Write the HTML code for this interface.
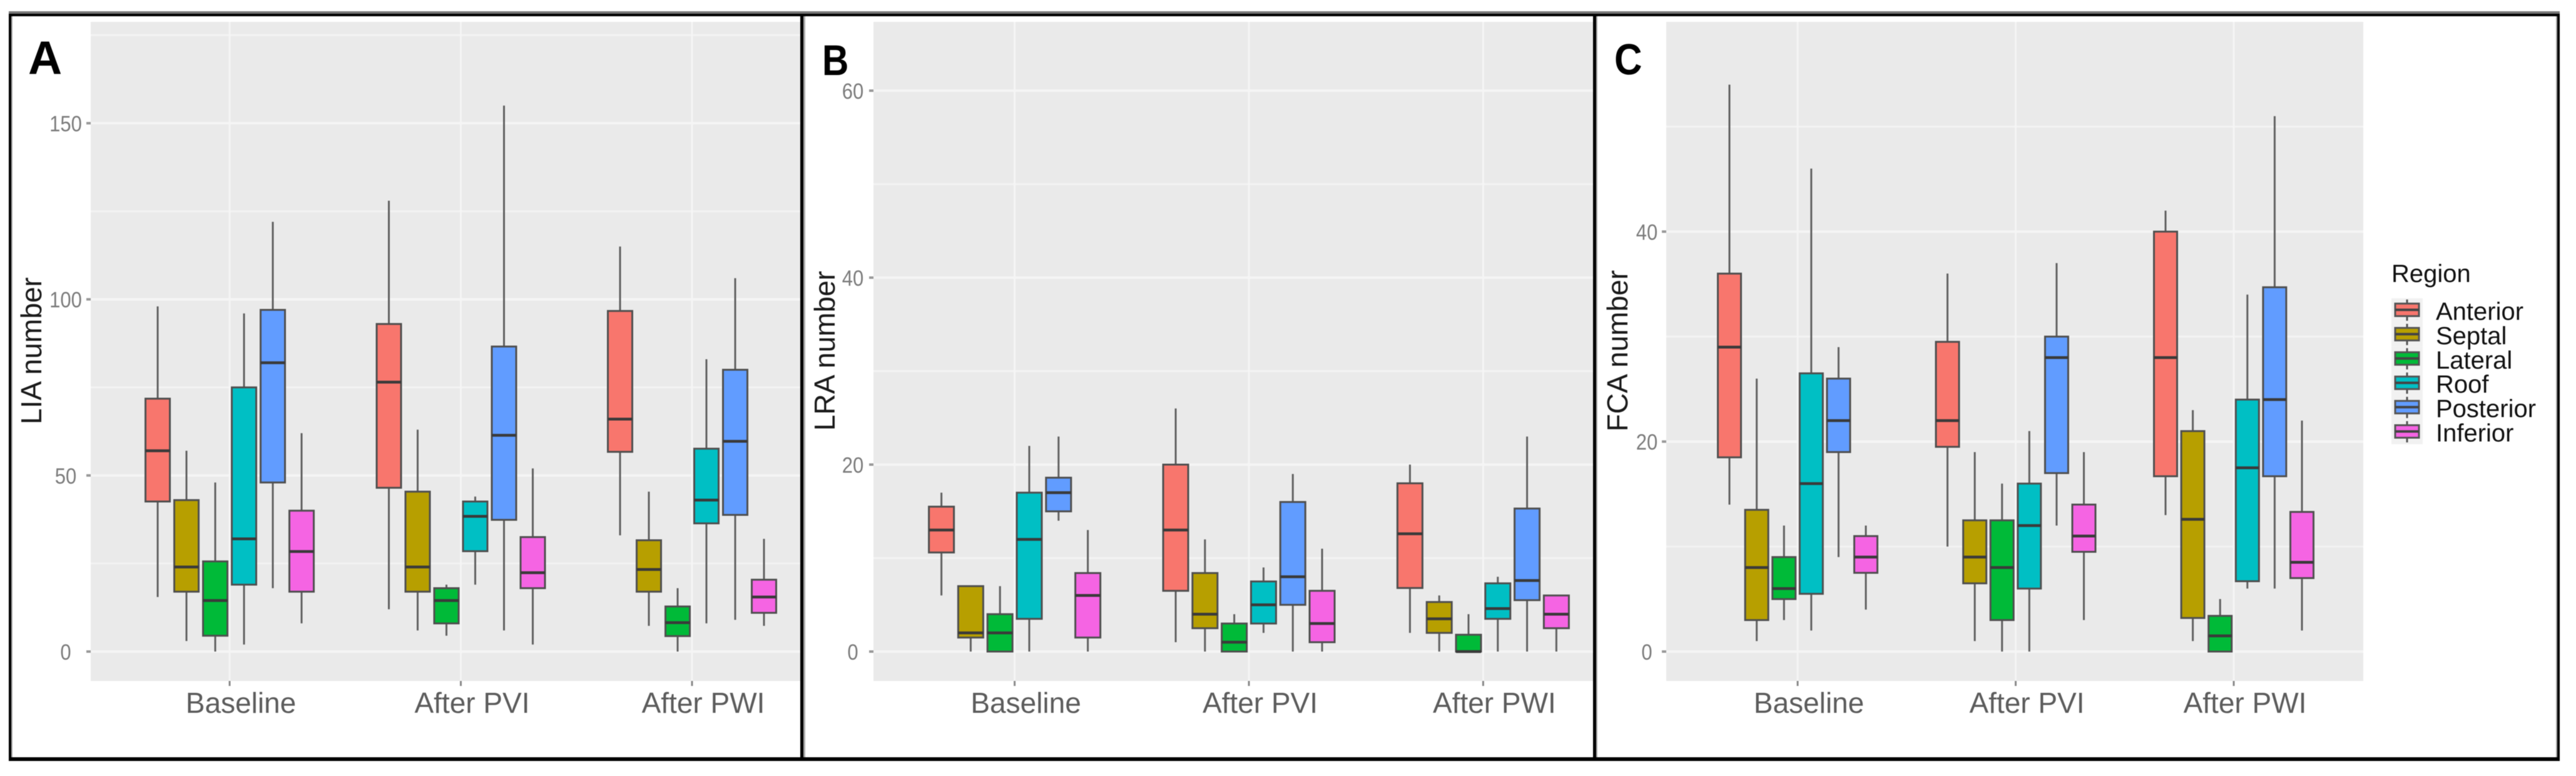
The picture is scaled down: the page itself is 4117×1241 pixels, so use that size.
<!DOCTYPE html>
<html lang="en">
<head>
<meta charset="utf-8">
<title>LIA, LRA and FCA number by region</title>
<style>
html,body{margin:0;padding:0;background:#fff;width:4117px;height:1241px;overflow:hidden}
svg{display:block;filter:blur(0.6px)}
text{font-family:"Liberation Sans",sans-serif}
</style>
</head>
<body>
<svg id="chart" xmlns="http://www.w3.org/2000/svg" width="4117" height="1241" viewBox="0 0 4117 1241"></svg>
<script>
// Shared categories
const categories = ['Baseline', 'After PVI', 'After PWI'];
const regions = ['Anterior', 'Septal', 'Lateral', 'Roof', 'Posterior', 'Inferior'];

// Tick labels
const liaTicks = [0, 50, 100, 150];
const lraTicks = [0, 20, 40, 60];
const fcaTicks = [0, 20, 40];

// Each row: [low whisker, Q1, median, Q3, high whisker] for Baseline, After PVI, After PWI
const liaAnterior  = [[15.5, 42.6, 57, 71.8, 98], [12, 46.5, 76.5, 93, 128], [33, 56.7, 66, 96.7, 115]];
const liaSeptal    = [[3, 17, 24, 43, 57], [6, 17, 24, 45.4, 63], [7.3, 17, 23.3, 31.6, 45.4]];
const liaLateral   = [[0, 4.5, 14.5, 25.6, 48], [4.5, 8, 14.5, 18, 19], [0, 4.4, 8.2, 12.8, 18]];
const liaRoof      = [[2, 19, 32, 75, 96], [19, 28.5, 38.4, 42.6, 44], [8, 36.4, 43, 57.6, 83]];
const liaPosterior = [[18, 48, 82, 97, 122], [6, 37.4, 61.4, 86.6, 155], [9, 38.8, 59.7, 80, 106]];
const liaInferior  = [[8, 17, 28.4, 40, 62], [2, 18, 22.4, 32.5, 52], [7.3, 11, 15.5, 20.4, 32]];

const lraAnterior  = [[6, 10.6, 13, 15.5, 17], [1, 6.5, 13, 20, 26], [2, 6.8, 12.6, 18, 20]];
const lraSeptal    = [[0, 1.5, 2, 7, 7], [0, 2.5, 4, 8.4, 12], [0, 2, 3.5, 5.3, 6]];
const lraLateral   = [[0, 0, 2, 4, 7], [0, 0, 1, 3, 4], [0, 0, 0, 1.8, 4]];
const lraRoof      = [[0, 3.5, 12, 17, 22], [2, 3, 5, 7.5, 9], [0, 3.5, 4.6, 7.3, 8]];
const lraPosterior = [[14, 15, 17, 18.6, 23], [0, 5, 8, 16, 19], [0, 5.5, 7.6, 15.3, 23]];
const lraInferior  = [[0, 1.5, 6, 8.4, 13], [0, 1, 3, 6.5, 11], [0, 2.5, 4, 6, 6]];

const fcaAnterior  = [[14, 18.5, 29, 36, 54], [10, 19.5, 22, 29.5, 36], [13, 16.7, 28, 40, 42]];
const fcaSeptal    = [[1, 3, 8, 13.5, 26], [1, 6.5, 9, 12.5, 19], [1, 3.2, 12.6, 21, 23]];
const fcaLateral   = [[3, 5, 6, 9, 12], [0, 3, 8, 12.5, 16], [0, 0, 1.5, 3.4, 5]];
const fcaRoof      = [[2, 5.5, 16, 26.5, 46], [0, 6, 12, 16, 21], [6, 6.7, 17.5, 24, 34]];
const fcaPosterior = [[9, 19, 22, 26, 29], [12, 17, 28, 30, 37], [6, 16.7, 24, 34.7, 51]];
const fcaInferior  = [[4, 7.5, 9, 11, 12], [3, 9.5, 11, 14, 19], [2, 7, 8.5, 13.3, 22]];

const liaSeries = [liaAnterior, liaSeptal, liaLateral, liaRoof, liaPosterior, liaInferior];
const lraSeries = [lraAnterior, lraSeptal, lraLateral, lraRoof, lraPosterior, lraInferior];
const fcaSeries = [fcaAnterior, fcaSeptal, fcaLateral, fcaRoof, fcaPosterior, fcaInferior];

const colors = ['#F8766D', '#B79F00', '#00BA38', '#00BFC4', '#619CFF', '#F564E3'];
const SVGNS = 'http://www.w3.org/2000/svg';
const root = document.getElementById('chart');

function make(tag, attrs, parent) {
  const e = document.createElementNS(SVGNS, tag);
  for (const k in attrs) e.setAttribute(k, attrs[k]);
  parent.appendChild(e);
  return e;
}

function drawPanel(cfg) {
  const xBand = g => cfg.x0 + g * cfg.dx;
  const xDodge = (g, i) => xBand(g) + (i - 2.5) * cfg.step;
  const yScale = v => cfg.y0 - v * cfg.unit;

  const panelGroup = make('g', {}, root);
  
  

  const bg = make('rect', {x: cfg.left, y: 35, width: cfg.right - cfg.left, height: 1054, fill: '#eaeaea'}, panelGroup);
  
  

  // minor gridlines sit halfway between major ticks
  const half = (cfg.ticks[1] - cfg.ticks[0]) / 2;
  for (let v = half; yScale(v) > 35; v += 2 * half) {
    const minor = make('line', {x1: cfg.left, x2: cfg.right, y1: yScale(v), y2: yScale(v), stroke: '#f3f3f3', 'stroke-width': 3}, panelGroup);
    
    
  }
  cfg.ticks.forEach(t => {
    const major = make('line', {x1: cfg.left, x2: cfg.right, y1: yScale(t), y2: yScale(t), stroke: '#f5f5f5', 'stroke-width': 4}, panelGroup);
    
    

    const tick = make('line', {x1: cfg.left - 7, x2: cfg.left, y1: yScale(t), y2: yScale(t), stroke: '#999', 'stroke-width': 4}, panelGroup);
    
    

    const label = make('text', {transform: 'translate(' + cfg.yLabelX + ',' + (yScale(t) + 13) + ') scale(1,1.15)', 'text-anchor': 'middle', 'font-size': 31, fill: '#7c7c7c'}, panelGroup);
    label.textContent = t;
    
    
  });

  categories.forEach((c, g) => {
    const grid = make('line', {x1: xBand(g), x2: xBand(g), y1: 35, y2: 1089, stroke: '#f5f5f5', 'stroke-width': 3}, panelGroup);
    
    

    const tick = make('line', {x1: xBand(g), x2: xBand(g), y1: 1089, y2: 1097, stroke: '#888', 'stroke-width': 3}, panelGroup);
    
    

    const label = make('text', {x: xBand(g) + 18, y: 1140, 'text-anchor': 'middle', 'font-size': 46, fill: '#5c5c5c'}, panelGroup);
    label.textContent = c;
    
    
  });

  cfg.series.forEach((rows, i) => {
    rows.forEach((r, g) => {
      const x = xDodge(g, i);
      const box = make('g', {}, panelGroup);
      
      

      const whisker = make('line', {x1: x, x2: x, y1: yScale(r[4]), y2: yScale(r[0]), stroke: '#606060', 'stroke-width': 3}, box);
      
      

      const rect = make('rect', {x: x - cfg.width / 2, y: yScale(r[3]), width: cfg.width, height: yScale(r[1]) - yScale(r[3]), fill: colors[i], stroke: '#4f4f4f', 'stroke-width': 3}, box);
      
      

      const med = make('line', {x1: x - cfg.width / 2, x2: x + cfg.width / 2, y1: yScale(r[2]), y2: yScale(r[2]), stroke: '#3a3a3a', 'stroke-width': 4.5}, box);
      
      
    });
  });

  const title = make('text', {transform: 'translate(' + cfg.titleX + ',561) rotate(-90)', 'text-anchor': 'middle', 'font-size': 46, fill: '#1a1a1a'}, panelGroup);
  title.textContent = cfg.title;
  
  

  const letter = make('text', {transform: 'translate(' + cfg.letterX + ',' + cfg.letterY + ') scale(' + cfg.letterScale + ',1)', 'font-size': cfg.letterSize, 'font-weight': 'bold', fill: '#000'}, panelGroup);
  letter.textContent = cfg.letter;
  
  
}

drawPanel({name: 'lia', title: 'LIA number', letter: 'A', ticks: liaTicks, series: liaSeries,
  left: 145, right: 1279, x0: 367, dx: 369.5, step: 46, width: 39, y0: 1042, unit: 5.633,
  yLabelX: 105, titleX: 66, letterX: 45, letterY: 118, letterSize: 75, letterScale: 1});
drawPanel({name: 'lra', title: 'LRA number', letter: 'B', ticks: lraTicks, series: lraSeries,
  left: 1396, right: 2546, x0: 1621.6, dx: 374.4, step: 46.8, width: 40, y0: 1042, unit: 14.95,
  yLabelX: 1363, titleX: 1334, letterX: 1314, letterY: 120, letterSize: 69, letterScale: 0.85});
drawPanel({name: 'fca', title: 'FCA number', letter: 'C', ticks: fcaTicks, series: fcaSeries,
  left: 2663, right: 3777, x0: 2873, dx: 348.5, step: 43.6, width: 37, y0: 1042, unit: 16.79,
  yLabelX: 2632, titleX: 2601, letterX: 2580, letterY: 119, letterSize: 70, letterScale: 0.88});

// Legend
const legend = make('g', {}, root);



const legendTitle = make('text', {x: 3822, y: 451, 'font-size': 40, fill: '#111'}, legend);
legendTitle.textContent = 'Region';



regions.forEach((r, i) => {
  const top = 477 + i * 38.9;
  const entry = make('g', {}, legend);
  
  

  const keyBg = make('rect', {x: 3822, y: top, width: 50, height: 38.9, fill: '#f1f1f1'}, entry);
  
  

  const whisker = make('line', {x1: 3847, x2: 3847, y1: top + 2, y2: top + 36, stroke: '#555', 'stroke-width': 3}, entry);
  
  

  const keyBox = make('rect', {x: 3828, y: top + 8.5, width: 38, height: 20, fill: colors[i], stroke: '#555', 'stroke-width': 3}, entry);
  
  

  const keyMed = make('line', {x1: 3828, x2: 3866, y1: top + 18.5, y2: top + 18.5, stroke: '#444', 'stroke-width': 4}, entry);
  
  

  const label = make('text', {x: 3893, y: top + 34.5, 'font-size': 40, fill: '#111'}, entry);
  label.textContent = r;
  
  
});

// Panel frame
const frame = make('g', {fill: '#000'}, root);



const frameTopShade = make('rect', {x: 14, y: 18, width: 4077, height: 4, fill: '#777'}, frame);



const frameTop = make('rect', {x: 14, y: 22, width: 4077, height: 4}, frame);



const frameBottom = make('rect', {x: 14, y: 1211, width: 4077, height: 6}, frame);



const frameLeft = make('rect', {x: 14, y: 22, width: 4, height: 1195}, frame);



const frameLeftShade = make('rect', {x: 18, y: 26, width: 2, height: 1185, fill: '#aaa'}, frame);



const dividerAB = make('rect', {x: 1279, y: 22, width: 5, height: 1195}, frame);



const dividerABShade = make('rect', {x: 1284, y: 26, width: 3, height: 1185, fill: '#aaa'}, frame);



const dividerBC = make('rect', {x: 2546, y: 22, width: 5, height: 1195}, frame);



const dividerBCShade = make('rect', {x: 2551, y: 26, width: 2, height: 1185, fill: '#aaa'}, frame);



const frameRightShade = make('rect', {x: 4085, y: 26, width: 2, height: 1185, fill: '#aaa'}, frame);



const frameRight = make('rect', {x: 4087, y: 22, width: 4, height: 1195}, frame);


</script>
</body>
</html>
